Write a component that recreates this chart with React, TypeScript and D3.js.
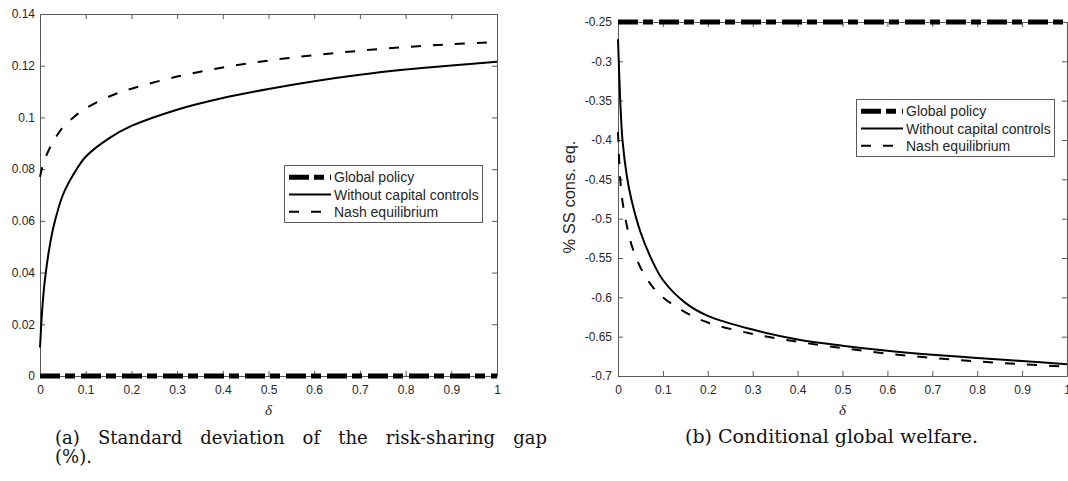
import React, { useEffect, useRef } from "react";
import * as d3 from "d3";

// delta grid used for the curves
const delta = [0, 0.005, 0.01, 0.02, 0.03, 0.05, 0.075, 0.1, 0.15, 0.2, 0.3, 0.4, 0.5, 0.6, 0.7, 0.8, 0.9, 1];

// panel (a): std. dev. of risk-sharing gap (%)
const gapWithout = [0.011, 0.026, 0.036, 0.049, 0.058, 0.07, 0.0785, 0.0848, 0.0918, 0.0967, 0.103, 0.1075, 0.111, 0.114, 0.1165, 0.1185, 0.1201, 0.1215];
const gapNash = [0.077, 0.0808, 0.0835, 0.0877, 0.091, 0.0962, 0.1003, 0.1035, 0.108, 0.1111, 0.1158, 0.1193, 0.122, 0.1241, 0.1258, 0.1272, 0.1283, 0.1292];

// panel (b): conditional global welfare
const welfareWithout = [-0.272, -0.35, -0.4, -0.447, -0.476, -0.517, -0.552, -0.578, -0.607, -0.6235, -0.641, -0.6535, -0.6615, -0.668, -0.673, -0.677, -0.681, -0.685];
const welfareNash = [-0.39, -0.45, -0.478, -0.51, -0.533, -0.562, -0.585, -0.6, -0.619, -0.632, -0.6465, -0.6565, -0.6645, -0.6715, -0.677, -0.6815, -0.685, -0.688];

// global policy is flat
const globalDelta = [0, 1];
const gapGlobal = [0, 0];
const welfareGlobal = [-0.25, -0.25];

const seriesNames = ["Global policy", "Without capital controls", "Nash equilibrium"];

const xTicks = [0, 0.1, 0.2, 0.3, 0.4, 0.5, 0.6, 0.7, 0.8, 0.9, 1];
const leftYTicks = [0, 0.02, 0.04, 0.06, 0.08, 0.1, 0.12, 0.14];
const rightYTicks = [-0.7, -0.65, -0.6, -0.55, -0.5, -0.45, -0.4, -0.35, -0.3, -0.25];

const AXIS = "#595959";
const TEXT = "#262626";
const SANS = "'Liberation Sans', Arial, sans-serif";
const SERIF = "'DejaVu Serif', serif";

const styles = [
  { width: 5, dash: "20,5,10,6" },
  { width: 2, dash: null },
  { width: 2, dash: "10,12" },
];

export default function App() {
  const svgRef = useRef<SVGSVGElement>(null);

  useEffect(() => {
    const svg = d3.select(svgRef.current);
    svg.selectAll("*").remove();

    function panel(opts: any) {
      const { left, right, top, bottom, yDomain, yTicks, series, legend, yPad } = opts;
      const x = d3.scaleLinear().domain([0, 1]).range([left, right]);
      const y = d3.scaleLinear().domain(yDomain).range([bottom, top]);
      const g = svg.append("g");
      const fmt = (d: any) => String(+(+d).toFixed(2));

      // axes box with inward ticks on all sides
      const axes = [
        g.append("g").attr("transform", `translate(0,${bottom})`)
          .call(d3.axisBottom(x).tickValues(xTicks).tickSize(-5).tickSizeOuter(0).tickPadding(9).tickFormat(fmt)),
        g.append("g").attr("transform", `translate(0,${top})`)
          .call(d3.axisTop(x).tickValues(xTicks).tickSize(-5).tickSizeOuter(0).tickFormat(() => "")),
        g.append("g").attr("transform", `translate(${left},0)`)
          .call(d3.axisLeft(y).tickValues(yTicks).tickSize(-5).tickSizeOuter(0).tickPadding(yPad).tickFormat(fmt)),
        g.append("g").attr("transform", `translate(${right},0)`)
          .call(d3.axisRight(y).tickValues(yTicks).tickSize(-5).tickSizeOuter(0).tickFormat(() => "")),
      ];
      axes.forEach(a => {
        a.selectAll("path, line").attr("stroke", AXIS);
        a.selectAll("text").attr("fill", TEXT).style("font-family", SANS).style("font-size", "12px");
      });

      // curves
      series.forEach((s: any, i: number) => {
        const line = d3.line<number>()
          .x((_, k) => x(s.xs[k]))
          .y(d => y(d))
          .curve(d3.curveCatmullRom.alpha(0.5));
        g.append("path")
          .attr("d", line(s.ys))
          .attr("fill", "none")
          .attr("stroke", "#000")
          .attr("stroke-width", styles[i].width)
          .attr("stroke-dasharray", styles[i].dash)
          .attr("stroke-linejoin", "round");
      });

      // delta label
      g.append("text")
        .attr("x", (left + right) / 2)
        .attr("y", 415)
        .attr("text-anchor", "middle")
        .style("font-family", "'Liberation Serif', serif")
        .style("font-style", "italic")
        .style("font-size", "15px")
        .attr("fill", TEXT)
        .text("δ");

      // legend
      const lg = g.append("g").attr("transform", `translate(${legend.x},${legend.y})`);
      lg.append("rect")
        .attr("x", 0.5).attr("y", 0.5)
        .attr("width", 198).attr("height", 57)
        .attr("fill", "#fff").attr("stroke", AXIS);
      seriesNames.forEach((name, i) => {
        const cy = 12.2 + i * 17.3;
        lg.append("line")
          .attr("x1", 5).attr("x2", 47)
          .attr("y1", cy).attr("y2", cy)
          .attr("stroke", "#000")
          .attr("stroke-width", styles[i].width)
          .attr("stroke-dasharray", styles[i].dash);
        lg.append("text")
          .attr("x", 50).attr("y", cy + 5)
          .style("font-family", SANS).style("font-size", "14px")
          .attr("fill", TEXT)
          .text(name);
      });
      return g;
    }

    panel({
      left: 40, right: 497, top: 14, bottom: 376,
      yDomain: [0, 0.14], yTicks: leftYTicks, yPad: 5,
      legend: { x: 284, y: 165 },
      series: [
        { xs: globalDelta, ys: gapGlobal },
        { xs: delta, ys: gapWithout },
        { xs: delta, ys: gapNash },
      ],
    });

    const right = panel({
      left: 618, right: 1067, top: 22, bottom: 376,
      yDomain: [-0.7, -0.25], yTicks: rightYTicks, yPad: 6,
      legend: { x: 856, y: 99 },
      series: [
        { xs: globalDelta, ys: welfareGlobal },
        { xs: delta, ys: welfareWithout },
        { xs: delta, ys: welfareNash },
      ],
    });

    right.append("text")
      .attr("transform", "translate(575,197) rotate(-90)")
      .attr("text-anchor", "middle")
      .style("font-family", SANS).style("font-size", "16.5px")
      .attr("fill", TEXT)
      .text("% SS cons. eq.");

    // captions
    const cap = (txt: string, x: number, y: number) =>
      svg.append("text")
        .attr("x", x).attr("y", y)
        .style("font-family", SERIF).style("font-size", "18px")
        .attr("fill", "#111")
        .text(txt);

    // first line of (a) is justified: stretch the word spaces
    const capA = cap("(a) Standard deviation of the risk-sharing gap", 55, 444);
    const natural = (capA.node() as SVGTextElement).getComputedTextLength();
    const gaps = 6;
    capA.style("word-spacing", `${Math.max(0, (492 - natural) / gaps)}px`);
    cap("(%).", 55, 463);
    cap("(b) Conditional global welfare.", 685, 443)
      .attr("textLength", 293).attr("lengthAdjust", "spacingAndGlyphs");
  }, []);

  return (
    <div style={{ position: "absolute", left: 0, top: 0 }}>
      <svg ref={svgRef} width={1068} height={481} style={{ display: "block", background: "#fff" }} />
    </div>
  );
}
